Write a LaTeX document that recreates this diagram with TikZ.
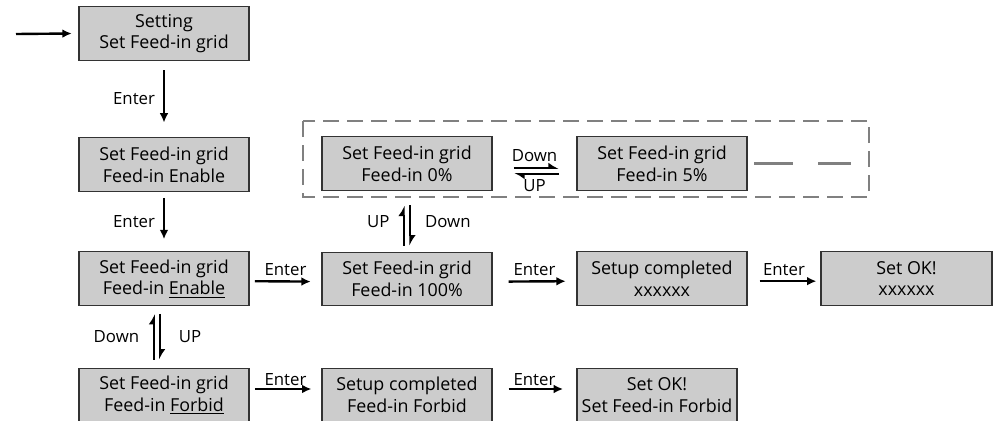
\documentclass[tikz,border=0pt]{standalone}
\usepackage{fontspec}
\setmainfont{Open Sans}
\usetikzlibrary{arrows.meta,positioning}

\begin{document}
\begin{tikzpicture}[
  x=0.75pt, y=-0.75pt,
  every node/.style={font=\fontsize{12.6}{15}\selectfont},
  box/.style={draw=black!80, line width=0.9pt, fill=gray!40, minimum width=127.5pt, minimum height=40pt, align=center, inner sep=0pt, font=\fontsize{13.4}{16.3}\selectfont},
  arr/.style={draw, line width=1.8pt, -{Latex[length=7pt,width=6.5pt]}},
  harp/.style={draw, line width=1.6pt, -{Latex[harpoon,length=6.5pt,width=8.5pt]}}
]
\useasboundingbox (0,0) rectangle (996,421);

% main column
\node[box] (set) at (164,33.5) {Setting\\Set Feed-in grid};
\node[box] (en) at (164,164.5) {Set Feed-in grid\\Feed-in Enable};
\node[box] (en2) at (164,278.5) {Set Feed-in grid\\Feed-in \underline{Enable}};
\node[box] (fb) at (164,395) {Set Feed-in grid\\Feed-in \underline{Forbid}};

% percentage choices
\node[box] (p0) at (407,163.5) {Set Feed-in grid\\Feed-in 0\%};
\node[box] (p5) at (662,163.5) {Set Feed-in grid\\Feed-in 5\%};
\node[box] (p100) at (407,279) {Set Feed-in grid\\Feed-in 100\%};
\node[box] (done1) at (662,278.5) {Setup completed\\xxxxxx};
\node[box, minimum width=128.25pt] (ok1) at (906.5,278.5) {Set OK!\\xxxxxx};
\node[box] (done2) at (407,395) {Setup completed\\Feed-in Forbid};
\node[box, minimum width=120pt] (ok2) at (657,395) {Set OK!\\Set Feed-in Forbid};

\draw[gray, dash pattern=on 12pt off 6pt, line width=0.9pt] (303,121) rectangle (869,197);
\draw[gray, line width=1.8pt] ([xshift=5pt]p5.east) -- ++(39,0);
\draw[gray, line width=1.8pt] ([xshift=53pt]p5.east) -- ++(33,0);

% connectors
\coordinate (in) at (16,34);
\draw[arr] (in) -- ([xshift=-5pt]set.west);
\draw[arr, shorten <=7pt, shorten >=11pt] (set) -- node[left=2.5pt] {Enter} (en);
\draw[arr, shorten <=4.5pt, shorten >=9pt] (en) -- node[left=2.5pt] {Enter} (en2);
\draw[arr, shorten <=4pt, shorten >=8pt] ([yshift=-2pt]en2.east) -- node[above=0pt] {Enter} ([yshift=-2pt]p100.west);
\draw[arr, shorten <=12pt, shorten >=8pt] ([yshift=-2pt]p100.east) -- node[above=0pt] {Enter} ([yshift=-2pt]done1.west);
\draw[arr, shorten <=9pt, shorten >=3pt] ([yshift=-2pt]done1.east) -- node[above=0pt] {Enter} ([yshift=-2pt]ok1.west);
\draw[arr, shorten <=4pt, shorten >=7.5pt] ([yshift=4.5pt]fb.east) -- node[above=-2pt] {Enter} ([yshift=4.5pt]done2.west);
\draw[arr, shorten <=12pt, shorten >=10pt] ([yshift=4.5pt]done2.east) -- node[above=-2pt] {Enter} ([yshift=4.5pt]ok2.west);

% up / down pairs
\draw[harp, shorten <=6pt, shorten >=6pt] ([xshift=-7.5pt]fb.north) -- node[left=7pt] {Down} ([xshift=-7.5pt]en2.south);
\draw[harp, shorten <=6pt, shorten >=6pt] ([xshift=-3pt]en2.south) -- node[right=10pt] {UP} ([xshift=-3pt]fb.north);
\draw[harp, shorten <=4.5pt, shorten >=11pt] ([xshift=-2.5pt]p100.north) -- node[left=6.5pt] {UP} ([xshift=-2.5pt]p0.south);
\draw[harp, shorten <=11pt, shorten >=4.5pt] ([xshift=2.5pt]p0.south) -- node[right=7pt] {Down} ([xshift=2.5pt]p100.north);
\draw[harp, shorten <=16pt, shorten >=13pt] ([yshift=-3.4pt]p0.east) -- node[above=1pt] {Down} ([yshift=-3.4pt]p5.west);
\draw[harp, shorten <=13pt, shorten >=16pt] ([yshift=-7.8pt]p5.west) -- node[below=0pt] {UP} ([yshift=-7.8pt]p0.east);
\end{tikzpicture}
\end{document}
